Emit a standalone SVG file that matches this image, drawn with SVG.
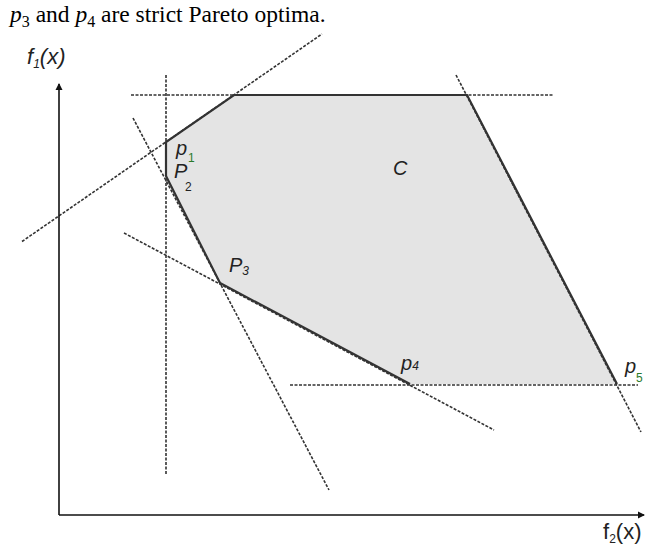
<svg xmlns="http://www.w3.org/2000/svg" width="651" height="545" viewBox="0 0 651 545">
<defs>
<style>
.dash{stroke:#333;stroke-width:1.6;stroke-dasharray:3 1.5;fill:none}
.solid{stroke:#333;stroke-width:2.2;fill:none}
.axis{stroke:#111;stroke-width:1.6;fill:none}
.lbl{font-family:"Liberation Sans","DejaVu Sans",sans-serif;font-style:italic;font-size:20px;fill:#222}
.ax{font-size:22px}
.sub{font-size:12px}
.up{font-style:normal}
.grn{fill:#2a7a2a}
.cap{font-family:"Liberation Serif",serif;font-size:23.5px;fill:#000}
</style>
<marker id="arr" markerWidth="8" markerHeight="8" refX="6" refY="4" orient="auto" markerUnits="userSpaceOnUse">
<path d="M0,0.5 L7,4 L0,7.5 Z" fill="#111"/>
</marker>
</defs>
<rect width="651" height="545" fill="#fff"/>
<text class="cap" x="10" y="22"><tspan font-style="italic">p</tspan><tspan font-size="16" dy="5">3</tspan><tspan dy="-5"> and </tspan><tspan font-style="italic">p</tspan><tspan font-size="16" dy="5">4</tspan><tspan dy="-5"> are strict Pareto optima.</tspan></text>
<g id="region-C">
<polygon points="234,95 467,95 617,384 410,384 220,283 166,176 166,142" fill="#e4e4e4" stroke="none"/>
</g>
<g id="connectors">
<line class="dash" x1="131" y1="95" x2="553" y2="95"/>
<line class="dash" x1="166" y1="75" x2="166" y2="475"/>
<line class="dash" x1="22" y1="241.5" x2="322" y2="34"/>
<line class="dash" x1="133" y1="118" x2="329" y2="490"/>
<line class="dash" x1="124" y1="233" x2="494" y2="430"/>
<line class="dash" x1="290" y1="385" x2="638" y2="385"/>
<line class="dash" x1="456" y1="75" x2="641" y2="432"/>
<polyline class="solid" points="166,176 166,142 234,95 467,95 617,384"/>
<polyline class="solid" points="166,176 220,283 410,384"/>
<line class="axis" x1="59" y1="515" x2="59" y2="84" marker-end="url(#arr)"/>
<line class="axis" x1="59" y1="515" x2="644" y2="515" marker-end="url(#arr)"/>
</g>
<g id="labels">
<text class="lbl ax" x="27" y="64">f<tspan class="sub" dy="4">1</tspan><tspan dy="-4">(x)</tspan></text>
<text class="lbl ax up" x="603" y="539">f<tspan class="sub" dy="4">2</tspan><tspan dy="-4">(x)</tspan></text>
<text class="lbl" x="393" y="175">C</text>
<text class="lbl" x="176" y="155">p</text>
<text class="lbl sub up grn" x="188" y="162">1</text>
<text class="lbl" x="174" y="178">P</text>
<text class="lbl sub up" x="185" y="191">2</text>
<text class="lbl" x="229" y="272">P<tspan class="sub" dy="3">3</tspan></text>
<text class="lbl" x="401" y="370">p<tspan class="sub">4</tspan></text>
<text class="lbl" x="625" y="373">p</text>
<text class="lbl sub up grn" x="636" y="382">5</text>
</g>
</svg>
